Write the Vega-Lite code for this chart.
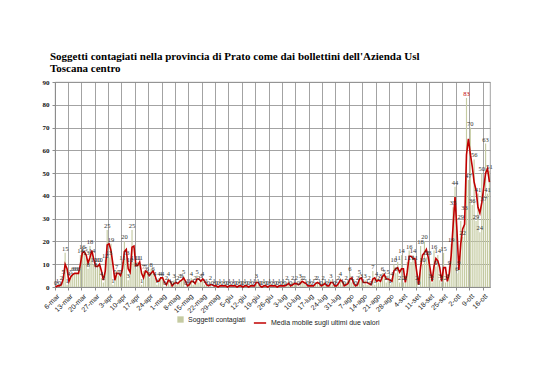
{
"$schema": "https://vega.github.io/schema/vega-lite/v6.json",
"width": 435, "height": 205,
"autosize": "none",
"padding": {"left": 55, "top": 82, "right": 48, "bottom": 93},
"background": "white",
"config": {"view": {"stroke": "#8c8c8c", "strokeWidth": 0.8},
  "axisY": {"labelOverlap": false, "labelFlush": false, "labelFont": "Liberation Serif", "labelFontWeight": "bold", "labelFontSize": 7, "labelColor": "#111111", "grid": true, "gridColor": "#8c8c8c", "gridWidth": 0.8, "tickSize": 3, "tickColor": "#8c8c8c", "domainColor": "#8c8c8c", "labelPadding": 3}},
"title": {"text": ["Soggetti contagiati  nella provincia di Prato come dai bollettini dell'Azienda Usl", "Toscana centro"], "anchor": "start", "frame": "group", "dx": -5, "offset": 4, "font": "Liberation Serif", "fontSize": 11, "fontWeight": "bold", "lineHeight": 12, "color": "black"},
"data": {"values": [
{"d":"6-mar","v":0},{"d":"7-mar","v":1},{"d":"8-mar","v":0},{"d":"9-mar","v":2},{"d":"10-mar","v":5},{"d":"11-mar","v":15},{"d":"12-mar","v":1},{"d":"13-mar","v":4},{"d":"14-mar","v":5},{"d":"15-mar","v":6},{"d":"16-mar","v":6},{"d":"17-mar","v":6},{"d":"18-mar","v":6},{"d":"19-mar","v":14},{"d":"20-mar","v":16},{"d":"21-mar","v":15},{"d":"22-mar","v":13},{"d":"23-mar","v":8},{"d":"24-mar","v":18},{"d":"25-mar","v":14},{"d":"26-mar","v":10},{"d":"27-mar","v":8},{"d":"28-mar","v":10},{"d":"29-mar","v":10},{"d":"30-mar","v":4},{"d":"31-mar","v":2},
{"d":"1-apr","v":12},{"d":"2-apr","v":25},{"d":"3-apr","v":13},{"d":"4-apr","v":19},{"d":"5-apr","v":1},{"d":"6-apr","v":5},{"d":"7-apr","v":7},{"d":"8-apr","v":5},{"d":"9-apr","v":5},{"d":"10-apr","v":11},{"d":"11-apr","v":20},{"d":"12-apr","v":13},{"d":"13-apr","v":3},{"d":"14-apr","v":10},{"d":"15-apr","v":25},{"d":"16-apr","v":11},{"d":"17-apr","v":8},{"d":"18-apr","v":11},{"d":"19-apr","v":11},{"d":"20-apr","v":1},{"d":"21-apr","v":7},{"d":"22-apr","v":7},{"d":"23-apr","v":6},{"d":"24-apr","v":4},{"d":"25-apr","v":8},{"d":"26-apr","v":6},{"d":"27-apr","v":4},{"d":"28-apr","v":1},{"d":"29-apr","v":4},{"d":"30-apr","v":4},
{"d":"1-mag","v":4},{"d":"2-mag","v":0},{"d":"3-mag","v":2},{"d":"4-mag","v":4},{"d":"5-mag","v":1},{"d":"6-mag","v":0},{"d":"7-mag","v":3},{"d":"8-mag","v":1},{"d":"9-mag","v":2},{"d":"10-mag","v":3},{"d":"11-mag","v":3},{"d":"12-mag","v":5},{"d":"13-mag","v":0},{"d":"14-mag","v":1},{"d":"15-mag","v":1},{"d":"16-mag","v":4},{"d":"17-mag","v":1},{"d":"18-mag","v":2},{"d":"19-mag","v":5},{"d":"20-mag","v":2},{"d":"21-mag","v":3},{"d":"22-mag","v":4},{"d":"23-mag","v":1},{"d":"24-mag","v":1},{"d":"25-mag","v":0},{"d":"26-mag","v":2},{"d":"27-mag","v":0},{"d":"28-mag","v":1},{"d":"29-mag","v":0},{"d":"30-mag","v":0},{"d":"31-mag","v":1},
{"d":"1-giu","v":0},{"d":"2-giu","v":1},{"d":"3-giu","v":0},{"d":"4-giu","v":0},{"d":"5-giu","v":1},{"d":"6-giu","v":0},{"d":"7-giu","v":1},{"d":"8-giu","v":0},{"d":"9-giu","v":0},{"d":"10-giu","v":1},{"d":"11-giu","v":0},{"d":"12-giu","v":0},{"d":"13-giu","v":1},{"d":"14-giu","v":0},{"d":"15-giu","v":0},{"d":"16-giu","v":1},{"d":"17-giu","v":0},{"d":"18-giu","v":1},{"d":"19-giu","v":3},{"d":"20-giu","v":1},{"d":"21-giu","v":0},{"d":"22-giu","v":0},{"d":"23-giu","v":1},{"d":"24-giu","v":0},{"d":"25-giu","v":0},{"d":"26-giu","v":1},{"d":"27-giu","v":0},{"d":"28-giu","v":1},{"d":"29-giu","v":0},{"d":"30-giu","v":0},
{"d":"1-lug","v":1},{"d":"2-lug","v":0},{"d":"3-lug","v":1},{"d":"4-lug","v":0},{"d":"5-lug","v":2},{"d":"6-lug","v":1},{"d":"7-lug","v":0},{"d":"8-lug","v":2},{"d":"9-lug","v":1},{"d":"10-lug","v":2},{"d":"11-lug","v":0},{"d":"12-lug","v":3},{"d":"13-lug","v":2},{"d":"14-lug","v":2},{"d":"15-lug","v":1},{"d":"16-lug","v":0},{"d":"17-lug","v":1},{"d":"18-lug","v":0},{"d":"19-lug","v":1},{"d":"20-lug","v":2},{"d":"21-lug","v":2},{"d":"22-lug","v":1},{"d":"23-lug","v":0},{"d":"24-lug","v":2},{"d":"25-lug","v":1},{"d":"26-lug","v":0},{"d":"27-lug","v":1},{"d":"28-lug","v":3},{"d":"29-lug","v":1},{"d":"30-lug","v":0},{"d":"31-lug","v":1},
{"d":"1-ago","v":2},{"d":"2-ago","v":4},{"d":"3-ago","v":1},{"d":"4-ago","v":0},{"d":"5-ago","v":2},{"d":"6-ago","v":1},{"d":"7-ago","v":6},{"d":"8-ago","v":2},{"d":"9-ago","v":1},{"d":"10-ago","v":0},{"d":"11-ago","v":2},{"d":"12-ago","v":5},{"d":"13-ago","v":3},{"d":"14-ago","v":1},{"d":"15-ago","v":3},{"d":"16-ago","v":1},{"d":"17-ago","v":2},{"d":"18-ago","v":0},{"d":"19-ago","v":7},{"d":"20-ago","v":1},{"d":"21-ago","v":4},{"d":"22-ago","v":2},{"d":"23-ago","v":3},{"d":"24-ago","v":6},{"d":"25-ago","v":5},{"d":"26-ago","v":2},{"d":"27-ago","v":5},{"d":"28-ago","v":1},{"d":"29-ago","v":4},{"d":"30-ago","v":10},{"d":"31-ago","v":6},
{"d":"1-set","v":11},{"d":"2-set","v":2},{"d":"3-set","v":14},{"d":"4-set","v":2},{"d":"5-set","v":2},{"d":"6-set","v":11},{"d":"7-set","v":16},{"d":"8-set","v":11},{"d":"9-set","v":14},{"d":"10-set","v":11},{"d":"11-set","v":2},{"d":"12-set","v":0},{"d":"13-set","v":18},{"d":"14-set","v":10},{"d":"15-set","v":20},{"d":"16-set","v":13},{"d":"17-set","v":13},{"d":"18-set","v":3},{"d":"19-set","v":2},{"d":"20-set","v":16},{"d":"21-set","v":9},{"d":"22-set","v":14},{"d":"23-set","v":3},{"d":"24-set","v":2},{"d":"25-set","v":15},{"d":"26-set","v":2},{"d":"27-set","v":3},{"d":"28-set","v":9},{"d":"29-set","v":19},{"d":"30-set","v":35},
{"d":"1-ott","v":44},{"d":"2-ott","v":6},{"d":"3-ott","v":9},{"d":"4-ott","v":29},{"d":"5-ott","v":22},{"d":"6-ott","v":33},{"d":"7-ott","v":83},{"d":"8-ott","v":47},{"d":"9-ott","v":70},{"d":"10-ott","v":36},{"d":"11-ott","v":56},{"d":"12-ott","v":29},{"d":"13-ott","v":41},{"d":"14-ott","v":24},{"d":"15-ott","v":50},{"d":"16-ott","v":37},{"d":"17-ott","v":63},{"d":"18-ott","v":41},{"d":"19-ott","v":51}
]},
"encoding": {
  "x": {"field": "d", "type": "ordinal", "sort": null,
    "scale": {"paddingInner": 0.4, "paddingOuter": 0},
    "axis": {"values": ["6-mar","13-mar","20-mar","27-mar","3-apr","10-apr","17-apr","24-apr","1-mag","8-mag","15-mag","22-mag","29-mag","5-giu","12-giu","19-giu","26-giu","3-lug","10-lug","17-lug","24-lug","31-lug","7-ago","14-ago","21-ago","28-ago","4-set","11-set","18-set","25-set","2-ott","9-ott","16-ott"],
      "title": null, "labelAngle": -45, "labelFont": "Liberation Sans", "labelFontSize": 7, "labelColor": "#222222",
      "bandPosition": 0, "grid": true, "gridColor": "#8c8c8c", "gridWidth": 0.8,
      "tickSize": 3, "tickColor": "#8c8c8c", "domainColor": "#8c8c8c", "labelPadding": 2, "labelOverlap": false}}
},
"layer": [
  {"mark": {"type": "bar"},
   "encoding": {
     "y": {"field": "v", "type": "quantitative", "scale": {"domain": [0, 90], "nice": false},
       "axis": {"values": [0,10,20,30,40,50,60,70,80,90], "title": null}},
     "color": {"datum": "Soggetti contagiati", "scale": {"range": ["#c5cba2"]},
       "legend": {"orient": "none", "legendX": 122, "legendY": 234, "title": null, "symbolType": "square", "symbolSize": 40, "symbolStrokeWidth": 0, "labelFont": "Liberation Sans", "labelFontSize": 7, "labelColor": "#222222"}}
   }},
  {"transform": [{"window": [{"op": "mean", "field": "v", "as": "m"}], "frame": [-1, 0]}],
   "mark": {"type": "line", "strokeWidth": 1.6, "interpolate": "linear"},
   "encoding": {
     "y": {"field": "m", "type": "quantitative", "axis": {"values": [0,10,20,30,40,50,60,70,80,90], "title": null}},
     "stroke": {"datum": "Media mobile sugli ultimi due valori", "scale": {"range": ["#c00000"]},
       "legend": {"orient": "none", "legendX": 198, "legendY": 234, "title": null, "symbolType": "stroke", "symbolSize": 150, "symbolStrokeWidth": 1.5, "labelFont": "Liberation Sans", "labelFontSize": 7, "labelColor": "#222222"}}
   }},
  {"mark": {"type": "text", "baseline": "bottom", "dy": -1, "font": "Liberation Serif", "fontSize": 6.5},
   "encoding": {
     "y": {"field": "v", "type": "quantitative", "axis": {"values": [0,10,20,30,40,50,60,70,80,90], "title": null}},
     "text": {"field": "v", "type": "quantitative"},
     "color": {"condition": {"test": "datum.v > 80", "value": "#c00000"}, "value": "#333333"}
   }}
]
}
